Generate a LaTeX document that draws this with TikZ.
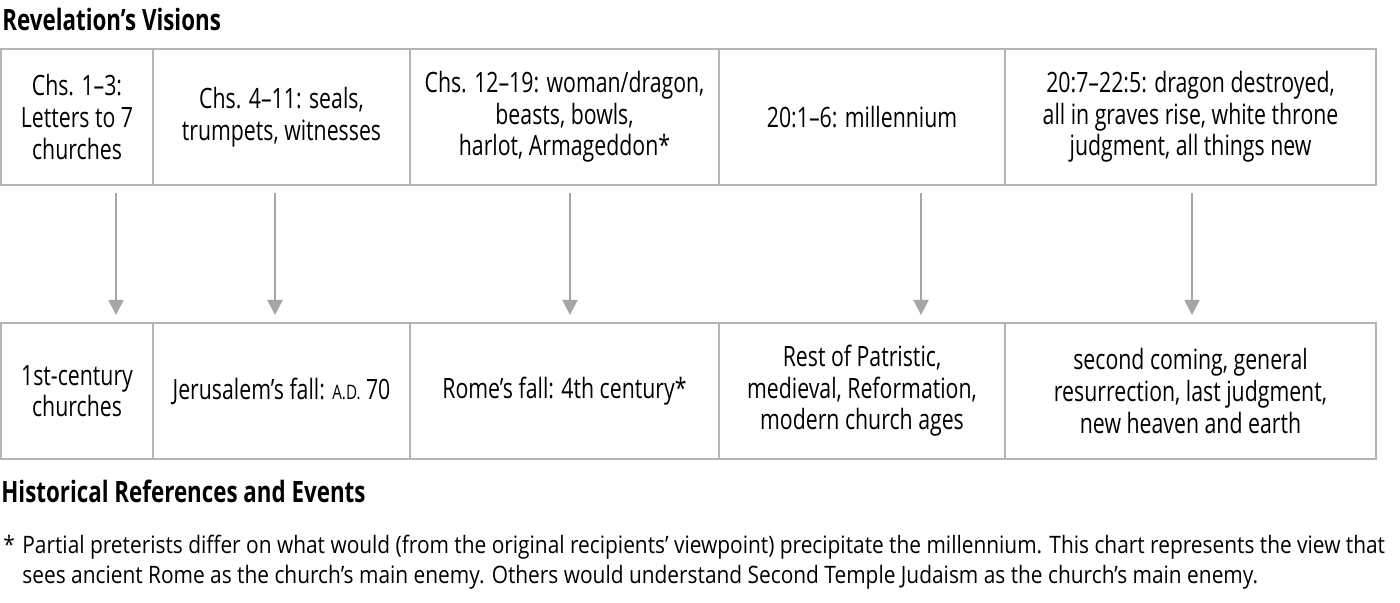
\documentclass[tikz,border=0pt]{standalone}
\usepackage{fontspec}
\setmainfont[FakeStretch=0.76]{Open Sans}
\newfontfamily\notefont[FakeStretch=0.87]{Open Sans}
\usetikzlibrary{positioning,arrows.meta}
\definecolor{rulegray}{RGB}{180,180,184}
\definecolor{arrowgray}{RGB}{165,165,170}
\tikzset{
chart/.style={x=0.5pt,y=-0.5pt,font=\fontsize{14}{15.8}\selectfont},
cell/.style={draw=rulegray,line width=1pt,minimum height=68pt,inner sep=2pt,
    outer sep=0pt,align=center},
link/.style={draw=arrowgray,line width=1pt,-{Triangle[width=7.5pt,length=7.5pt]},
    shorten <=4pt,shorten >=4pt},
heading/.style={anchor=base west,inner sep=0pt,
    font=\bfseries\fontsize{14.7}{16}\selectfont},
note/.style={anchor=base west,inner sep=0pt,
    font=\notefont\fontsize{12}{15}\selectfont},
}
\newcommand{\ad}{{\fontsize{10}{12}\selectfont A.D.}}

\begin{document}
\begin{tikzpicture}[chart]

    \fill[white] (0,0) rectangle (1400,603);

    \node[heading] (title) at (2,31) {Revelation’s Visions};

    % visions
    \node[cell,minimum width=76pt,anchor=north west] (v1) at (1,49)
        {Chs. 1–3:\\Letters to 7\\churches};
    \node[cell,minimum width=128.5pt,right=0pt of v1] (v2)
        {Chs. 4–11: seals,\\trumpets, witnesses};
    \node[cell,minimum width=154.5pt,right=0pt of v2] (v3)
        {Chs. 12–19: woman/dragon,\\beasts, bowls,\\harlot, Armageddon*};
    \node[cell,minimum width=143pt,right=0pt of v3] (v4)
        {20:1–6: millennium};
    \node[cell,minimum width=185.5pt,right=0pt of v4] (v5)
        {20:7–22:5: dragon destroyed,\\all in graves rise, white throne\\judgment, all things new};

    % events
    \node[cell,minimum width=76pt,anchor=north west] (h1) at (1,323)
        {1st-century\\churches};
    \node[cell,minimum width=128.5pt,right=0pt of h1] (h2)
        {Jerusalem’s fall: \ad\ 70};
    \node[cell,minimum width=154.5pt,right=0pt of h2] (h3)
        {Rome’s fall: 4th century*};
    \node[cell,minimum width=143pt,right=0pt of h3] (h4)
        {Rest of Patristic,\\medieval, Reformation,\\modern church ages};
    \node[cell,minimum width=185.5pt,right=0pt of h4] (h5)
        {second coming, general\\resurrection, last judgment,\\new heaven and earth};

    \coordinate (a1) at (116,0);
    \coordinate (a2) at (275,0);
    \coordinate (a3) at (570,0);
    \coordinate (a4) at (921,0);
    \coordinate (a5) at (1192,0);

    \foreach \i in {1,...,5}
        \draw[link] (v\i.south -| a\i) -- (h\i.north -| a\i);

    \node[heading] (events) at (1,502) {Historical References and Events};

    \node[note] (note1) at (3,553)
        {\makebox[9.5pt][l]{*}Partial preterists differ on what would (from the original recipients’ viewpoint) precipitate the millennium. This chart represents the view that};
    \node[note] (note2) at (22,583)
        {sees ancient Rome as the church’s main enemy. Others would understand Second Temple Judaism as the church’s main enemy.};

\end{tikzpicture}
\end{document}
